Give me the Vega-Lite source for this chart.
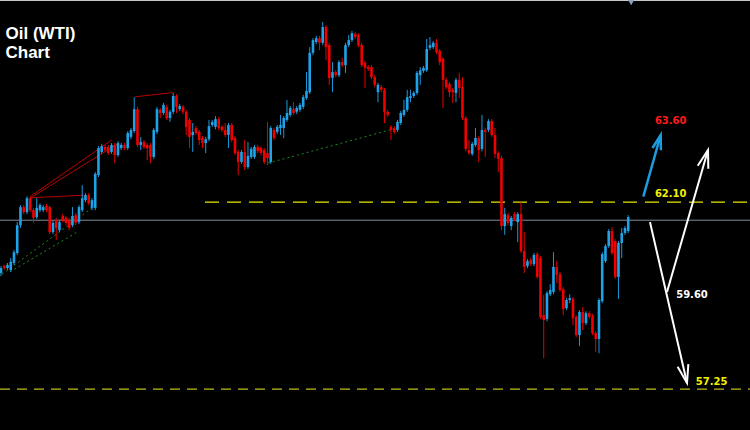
{
  "$schema": "https://vega.github.io/schema/vega-lite/v6.json",
  "width": 750,
  "height": 430,
  "autosize": {"type": "none"},
  "padding": 0,
  "background": "#000000",
  "config": {"view": {"stroke": null}, "axis": {"disable": true}},
  "datasets": {
    "candles": [
      {"i":0,"o":60.26,"h":60.44,"l":60.18,"c":60.39},
      {"i":1,"o":60.44,"h":60.47,"l":60.34,"c":60.39},
      {"i":2,"o":60.39,"h":60.52,"l":60.34,"c":60.47},
      {"i":3,"o":60.34,"h":60.65,"l":60.29,"c":60.55},
      {"i":4,"o":60.52,"h":60.86,"l":60.47,"c":60.80},
      {"i":5,"o":60.78,"h":61.58,"l":60.73,"c":61.50},
      {"i":6,"o":61.50,"h":62.02,"l":61.43,"c":61.97},
      {"i":7,"o":61.97,"h":62.02,"l":61.79,"c":61.84},
      {"i":8,"o":61.84,"h":62.25,"l":61.79,"c":62.20},
      {"i":9,"o":62.20,"h":62.23,"l":61.84,"c":61.89},
      {"i":10,"o":61.89,"h":61.95,"l":61.58,"c":61.69},
      {"i":11,"o":61.71,"h":62.20,"l":61.66,"c":61.95},
      {"i":12,"o":61.89,"h":62.07,"l":61.84,"c":62.02},
      {"i":13,"o":61.89,"h":62.02,"l":61.84,"c":61.97},
      {"i":14,"o":62.00,"h":62.05,"l":61.84,"c":61.89},
      {"i":15,"o":61.97,"h":62.00,"l":61.27,"c":61.32},
      {"i":16,"o":61.32,"h":61.61,"l":61.27,"c":61.56},
      {"i":17,"o":61.63,"h":61.69,"l":61.12,"c":61.43},
      {"i":18,"o":61.37,"h":61.63,"l":61.32,"c":61.58},
      {"i":19,"o":61.74,"h":61.79,"l":61.58,"c":61.63},
      {"i":20,"o":61.69,"h":61.74,"l":61.50,"c":61.56},
      {"i":21,"o":61.63,"h":61.69,"l":61.37,"c":61.43},
      {"i":22,"o":61.50,"h":61.97,"l":61.45,"c":61.74},
      {"i":23,"o":61.76,"h":61.82,"l":61.50,"c":61.56},
      {"i":24,"o":61.58,"h":62.02,"l":61.53,"c":61.97},
      {"i":25,"o":61.89,"h":62.54,"l":61.84,"c":62.20},
      {"i":26,"o":62.15,"h":62.33,"l":62.10,"c":62.28},
      {"i":27,"o":62.28,"h":62.33,"l":62.02,"c":62.07},
      {"i":28,"o":61.95,"h":62.20,"l":61.89,"c":62.15},
      {"i":29,"o":61.95,"h":62.88,"l":61.89,"c":62.83},
      {"i":30,"o":62.80,"h":63.55,"l":62.75,"c":63.50},
      {"i":31,"o":63.40,"h":63.61,"l":63.35,"c":63.55},
      {"i":32,"o":63.53,"h":63.58,"l":63.40,"c":63.45},
      {"i":33,"o":63.53,"h":63.58,"l":63.32,"c":63.37},
      {"i":34,"o":63.40,"h":63.63,"l":63.35,"c":63.58},
      {"i":35,"o":63.58,"h":63.63,"l":63.11,"c":63.32},
      {"i":36,"o":63.32,"h":63.68,"l":63.27,"c":63.63},
      {"i":37,"o":63.50,"h":63.63,"l":63.45,"c":63.58},
      {"i":38,"o":63.58,"h":63.63,"l":63.45,"c":63.50},
      {"i":39,"o":63.50,"h":63.94,"l":63.45,"c":63.89},
      {"i":40,"o":63.79,"h":64.02,"l":63.73,"c":63.97},
      {"i":41,"o":63.94,"h":64.82,"l":63.89,"c":64.51},
      {"i":42,"o":64.51,"h":64.57,"l":63.53,"c":63.58},
      {"i":43,"o":63.58,"h":63.79,"l":63.45,"c":63.66},
      {"i":44,"o":63.66,"h":63.71,"l":63.48,"c":63.53},
      {"i":45,"o":63.58,"h":63.63,"l":63.19,"c":63.50},
      {"i":46,"o":63.58,"h":63.63,"l":63.11,"c":63.27},
      {"i":47,"o":63.27,"h":64.02,"l":63.22,"c":63.97},
      {"i":48,"o":63.92,"h":64.57,"l":63.86,"c":64.51},
      {"i":49,"o":64.49,"h":64.54,"l":64.28,"c":64.41},
      {"i":50,"o":64.41,"h":64.67,"l":64.36,"c":64.62},
      {"i":51,"o":64.57,"h":64.62,"l":64.23,"c":64.28},
      {"i":52,"o":64.28,"h":64.49,"l":64.18,"c":64.44},
      {"i":53,"o":64.44,"h":64.93,"l":64.38,"c":64.85},
      {"i":54,"o":64.85,"h":64.90,"l":64.41,"c":64.57},
      {"i":55,"o":64.51,"h":64.64,"l":64.46,"c":64.59},
      {"i":56,"o":64.57,"h":64.62,"l":64.38,"c":64.44},
      {"i":57,"o":64.44,"h":64.49,"l":63.84,"c":64.05},
      {"i":58,"o":64.23,"h":64.28,"l":63.50,"c":63.79},
      {"i":59,"o":63.84,"h":64.15,"l":63.40,"c":63.92},
      {"i":60,"o":64.02,"h":64.07,"l":63.84,"c":63.89},
      {"i":61,"o":63.92,"h":63.97,"l":63.58,"c":63.71},
      {"i":62,"o":63.76,"h":63.81,"l":63.50,"c":63.63},
      {"i":63,"o":63.63,"h":63.79,"l":63.37,"c":63.73},
      {"i":64,"o":63.73,"h":64.23,"l":63.68,"c":64.07},
      {"i":65,"o":64.10,"h":64.23,"l":64.05,"c":64.18},
      {"i":66,"o":64.05,"h":64.33,"l":63.99,"c":64.25},
      {"i":67,"o":64.25,"h":64.31,"l":63.97,"c":64.02},
      {"i":68,"o":64.05,"h":64.10,"l":63.92,"c":63.97},
      {"i":69,"o":63.97,"h":64.15,"l":63.79,"c":63.84},
      {"i":70,"o":63.84,"h":64.15,"l":63.50,"c":64.10},
      {"i":71,"o":64.10,"h":64.15,"l":63.66,"c":63.71},
      {"i":72,"o":63.76,"h":63.81,"l":63.32,"c":63.37},
      {"i":73,"o":63.40,"h":63.45,"l":62.80,"c":63.14},
      {"i":74,"o":63.14,"h":63.45,"l":63.09,"c":63.40},
      {"i":75,"o":63.40,"h":63.71,"l":62.93,"c":63.01},
      {"i":76,"o":63.01,"h":63.66,"l":62.96,"c":63.30},
      {"i":77,"o":63.27,"h":63.53,"l":63.22,"c":63.48},
      {"i":78,"o":63.27,"h":63.58,"l":63.22,"c":63.53},
      {"i":79,"o":63.53,"h":63.58,"l":63.37,"c":63.42},
      {"i":80,"o":63.50,"h":63.55,"l":63.32,"c":63.37},
      {"i":81,"o":63.45,"h":63.50,"l":63.09,"c":63.14},
      {"i":82,"o":63.37,"h":64.18,"l":63.06,"c":63.24},
      {"i":83,"o":63.14,"h":64.07,"l":63.09,"c":64.02},
      {"i":84,"o":63.97,"h":64.02,"l":63.71,"c":63.76},
      {"i":85,"o":63.92,"h":64.10,"l":63.86,"c":64.05},
      {"i":86,"o":64.02,"h":64.36,"l":63.84,"c":64.10},
      {"i":87,"o":64.02,"h":64.33,"l":63.76,"c":64.28},
      {"i":88,"o":64.23,"h":64.75,"l":64.18,"c":64.41},
      {"i":89,"o":64.36,"h":64.59,"l":64.31,"c":64.54},
      {"i":90,"o":64.51,"h":64.69,"l":64.36,"c":64.41},
      {"i":91,"o":64.44,"h":64.59,"l":64.38,"c":64.54},
      {"i":92,"o":64.49,"h":64.67,"l":64.44,"c":64.62},
      {"i":93,"o":64.57,"h":64.88,"l":64.51,"c":64.82},
      {"i":94,"o":64.80,"h":65.47,"l":64.75,"c":64.98},
      {"i":95,"o":64.95,"h":66.12,"l":64.90,"c":65.97},
      {"i":96,"o":65.97,"h":66.35,"l":65.91,"c":66.30},
      {"i":97,"o":66.25,"h":66.41,"l":66.20,"c":66.35},
      {"i":98,"o":66.35,"h":66.41,"l":66.04,"c":66.23},
      {"i":99,"o":66.23,"h":66.77,"l":66.17,"c":66.64},
      {"i":100,"o":66.64,"h":66.69,"l":65.78,"c":66.12},
      {"i":101,"o":66.17,"h":66.23,"l":65.14,"c":65.32},
      {"i":102,"o":65.32,"h":65.73,"l":64.95,"c":65.47},
      {"i":103,"o":65.47,"h":65.52,"l":65.34,"c":65.39},
      {"i":104,"o":65.39,"h":65.78,"l":65.34,"c":65.73},
      {"i":105,"o":65.73,"h":65.84,"l":65.60,"c":65.65},
      {"i":106,"o":65.65,"h":66.23,"l":65.45,"c":66.17},
      {"i":107,"o":66.17,"h":66.43,"l":66.12,"c":66.30},
      {"i":108,"o":66.30,"h":66.54,"l":66.25,"c":66.48},
      {"i":109,"o":66.46,"h":66.51,"l":66.33,"c":66.38},
      {"i":110,"o":66.43,"h":66.48,"l":66.12,"c":66.17},
      {"i":111,"o":66.17,"h":66.23,"l":65.60,"c":65.65},
      {"i":112,"o":65.71,"h":65.76,"l":65.06,"c":65.58},
      {"i":113,"o":65.60,"h":65.65,"l":65.50,"c":65.55},
      {"i":114,"o":65.60,"h":65.65,"l":65.29,"c":65.34},
      {"i":115,"o":65.34,"h":65.39,"l":65.08,"c":65.14},
      {"i":116,"o":64.95,"h":65.19,"l":64.69,"c":65.14},
      {"i":117,"o":65.08,"h":65.14,"l":64.95,"c":65.01},
      {"i":118,"o":65.01,"h":65.06,"l":64.15,"c":64.44},
      {"i":119,"o":64.44,"h":64.49,"l":64.31,"c":64.36},
      {"i":120,"o":64.05,"h":64.10,"l":63.71,"c":63.97},
      {"i":121,"o":64.02,"h":64.07,"l":63.86,"c":63.92},
      {"i":122,"o":63.97,"h":64.23,"l":63.92,"c":64.18},
      {"i":123,"o":64.15,"h":64.46,"l":64.10,"c":64.41},
      {"i":124,"o":64.36,"h":64.75,"l":64.31,"c":64.49},
      {"i":125,"o":64.49,"h":65.01,"l":64.44,"c":64.82},
      {"i":126,"o":64.80,"h":65.01,"l":64.69,"c":64.85},
      {"i":127,"o":64.85,"h":64.98,"l":64.80,"c":64.93},
      {"i":128,"o":64.93,"h":65.50,"l":64.88,"c":65.45},
      {"i":129,"o":65.39,"h":65.60,"l":65.14,"c":65.52},
      {"i":130,"o":65.50,"h":65.63,"l":65.45,"c":65.58},
      {"i":131,"o":65.52,"h":66.33,"l":65.47,"c":66.07},
      {"i":132,"o":66.10,"h":66.38,"l":66.04,"c":66.17},
      {"i":133,"o":66.12,"h":66.28,"l":66.07,"c":66.23},
      {"i":134,"o":66.23,"h":66.33,"l":65.94,"c":65.99},
      {"i":135,"o":66.02,"h":66.07,"l":65.65,"c":65.73},
      {"i":136,"o":65.81,"h":65.86,"l":64.54,"c":65.27},
      {"i":137,"o":65.27,"h":65.32,"l":65.03,"c":65.08},
      {"i":138,"o":65.16,"h":65.21,"l":64.82,"c":64.95},
      {"i":139,"o":65.01,"h":65.06,"l":64.67,"c":64.95},
      {"i":140,"o":64.93,"h":65.32,"l":64.69,"c":65.27},
      {"i":141,"o":65.27,"h":65.45,"l":64.80,"c":65.06},
      {"i":142,"o":65.08,"h":65.34,"l":64.23,"c":64.28},
      {"i":143,"o":64.28,"h":64.33,"l":63.42,"c":63.48},
      {"i":144,"o":63.45,"h":63.71,"l":63.32,"c":63.37},
      {"i":145,"o":63.35,"h":63.66,"l":63.30,"c":63.61},
      {"i":146,"o":63.58,"h":64.02,"l":63.53,"c":63.76},
      {"i":147,"o":63.76,"h":63.81,"l":63.14,"c":63.45},
      {"i":148,"o":63.48,"h":64.36,"l":63.42,"c":63.97},
      {"i":149,"o":63.97,"h":64.02,"l":63.27,"c":63.92},
      {"i":150,"o":63.97,"h":64.25,"l":63.92,"c":64.20},
      {"i":151,"o":64.20,"h":64.25,"l":63.79,"c":63.84},
      {"i":152,"o":63.84,"h":64.02,"l":63.24,"c":63.35},
      {"i":153,"o":63.37,"h":63.42,"l":62.88,"c":63.22},
      {"i":154,"o":63.24,"h":63.30,"l":61.37,"c":61.48},
      {"i":155,"o":61.48,"h":61.95,"l":61.25,"c":61.79},
      {"i":156,"o":61.76,"h":61.82,"l":61.50,"c":61.56},
      {"i":157,"o":61.48,"h":61.74,"l":61.37,"c":61.69},
      {"i":158,"o":61.79,"h":61.84,"l":61.61,"c":61.66},
      {"i":159,"o":61.58,"h":61.84,"l":61.06,"c":61.79},
      {"i":160,"o":61.79,"h":62.10,"l":60.78,"c":60.83},
      {"i":161,"o":60.83,"h":61.32,"l":60.26,"c":60.42},
      {"i":162,"o":60.44,"h":60.62,"l":60.39,"c":60.57},
      {"i":163,"o":60.60,"h":60.65,"l":60.44,"c":60.49},
      {"i":164,"o":60.49,"h":60.78,"l":60.44,"c":60.73},
      {"i":165,"o":60.75,"h":60.80,"l":60.11,"c":60.16},
      {"i":166,"o":60.65,"h":60.70,"l":59.07,"c":59.12},
      {"i":167,"o":59.17,"h":59.69,"l":58.05,"c":59.04},
      {"i":168,"o":59.07,"h":59.79,"l":59.01,"c":59.74},
      {"i":169,"o":59.71,"h":59.97,"l":59.66,"c":59.82},
      {"i":170,"o":59.77,"h":60.80,"l":59.71,"c":60.42},
      {"i":171,"o":60.42,"h":60.57,"l":60.00,"c":60.21},
      {"i":172,"o":60.23,"h":60.29,"l":59.77,"c":59.82},
      {"i":173,"o":59.84,"h":59.90,"l":59.17,"c":59.33},
      {"i":174,"o":59.35,"h":59.61,"l":59.30,"c":59.56},
      {"i":175,"o":59.56,"h":59.71,"l":59.48,"c":59.61},
      {"i":176,"o":59.59,"h":59.64,"l":58.91,"c":59.09},
      {"i":177,"o":59.12,"h":59.17,"l":58.60,"c":58.65},
      {"i":178,"o":58.65,"h":59.30,"l":58.37,"c":59.25},
      {"i":179,"o":59.25,"h":59.38,"l":58.78,"c":58.96},
      {"i":180,"o":58.96,"h":59.27,"l":58.91,"c":59.22},
      {"i":181,"o":59.22,"h":59.27,"l":59.07,"c":59.12},
      {"i":182,"o":59.14,"h":59.20,"l":58.65,"c":58.70},
      {"i":183,"o":58.70,"h":58.76,"l":58.21,"c":58.55},
      {"i":184,"o":58.55,"h":59.61,"l":58.18,"c":59.56},
      {"i":185,"o":59.53,"h":60.80,"l":59.48,"c":60.75},
      {"i":186,"o":60.57,"h":61.01,"l":60.52,"c":60.96},
      {"i":187,"o":60.96,"h":61.40,"l":60.91,"c":61.35},
      {"i":188,"o":61.35,"h":61.45,"l":60.73,"c":60.78},
      {"i":189,"o":61.09,"h":61.14,"l":60.11,"c":60.16},
      {"i":190,"o":60.16,"h":61.09,"l":59.59,"c":61.04},
      {"i":191,"o":61.04,"h":61.43,"l":60.65,"c":61.30},
      {"i":192,"o":61.30,"h":61.48,"l":61.25,"c":61.43},
      {"i":193,"o":61.35,"h":61.76,"l":61.30,"c":61.71}
    ],
    "redLines": [
      {"id":"r1","x":8.93,"p":62.24},{"id":"r1","x":34.07,"p":63.71},
      {"id":"r2","x":8.93,"p":62.20},{"id":"r2","x":36.10,"p":63.62},
      {"id":"r3","x":8.93,"p":62.21},{"id":"r3","x":25.85,"p":62.28},
      {"id":"r4","x":41.24,"p":64.83},{"id":"r4","x":53.02,"p":64.94}
    ],
    "greenLines": [
      {"id":"g1","x":0.32,"p":60.23},{"id":"g1","x":28.01,"p":61.95},
      {"id":"g2","x":2.78,"p":60.29},{"id":"g2","x":23.39,"p":61.32},
      {"id":"g3","x":82.16,"p":63.11},{"id":"g3","x":119.7,"p":63.97}
    ],
    "whiteLines": [
      {"id":"down","x":199.7,"p":61.58},{"id":"down","x":211.09,"p":57.41},
      {"id":"up","x":204.93,"p":59.77},{"id":"up","x":217.55,"p":63.45}
    ],
    "blueLine": [
      {"id":"b","x":197.64,"p":62.24},{"id":"b","x":202.99,"p":63.84}
    ]
  },
  "layer": [
    {
      "data": {"values": [{}]},
      "mark": {"type": "rule", "stroke": "#c8c8c8", "strokeWidth": 2},
      "encoding": {
        "x": {"datum": -0.3, "type": "quantitative", "scale": {"domain": [-0.3, 230.47], "nice": false, "zero": false, "padding": 0}, "axis": null},
        "x2": {"datum": 230.47},
        "y": {"datum": 67.34, "type": "quantitative", "scale": {"domain": [56.19, 67.34], "nice": false, "zero": false, "padding": 0}, "axis": null}
      }
    },
    {
      "data": {"values": [{}]},
      "mark": {"type": "point", "shape": "triangle-down", "filled": true, "size": 45, "color": "#8aa2bb", "opacity": 1},
      "encoding": {
        "x": {"datum": 193.9, "type": "quantitative"},
        "y": {"datum": 67.28, "type": "quantitative"}
      }
    },
    {
      "data": {"values": [{}]},
      "mark": {"type": "rule", "stroke": "#7f8d9c", "strokeWidth": 1},
      "encoding": {
        "x": {"datum": -0.3, "type": "quantitative"},
        "x2": {"datum": 230.47},
        "y": {"datum": 61.63, "type": "quantitative"}
      }
    },
    {
      "data": {"values": [{}]},
      "mark": {"type": "rule", "stroke": "#e6e600", "strokeWidth": 1.3, "strokeDash": [14, 8]},
      "encoding": {
        "x": {"datum": 62.78, "type": "quantitative"},
        "x2": {"datum": 230.47},
        "y": {"datum": 62.10, "type": "quantitative"}
      }
    },
    {
      "data": {"values": [{}]},
      "mark": {"type": "rule", "stroke": "#bdbd14", "strokeWidth": 1.3, "strokeDash": [10, 7]},
      "encoding": {
        "x": {"datum": -0.3, "type": "quantitative"},
        "x2": {"datum": 230.47},
        "y": {"datum": 57.25, "type": "quantitative"}
      }
    },
    {
      "data": {"name": "greenLines"},
      "mark": {"type": "line", "stroke": "#1d8a1d", "strokeWidth": 1, "strokeDash": [2, 3]},
      "encoding": {
        "x": {"field": "x", "type": "quantitative"},
        "y": {"field": "p", "type": "quantitative"},
        "detail": {"field": "id"}
      }
    },
    {
      "data": {"name": "redLines"},
      "mark": {"type": "line", "stroke": "#b80000", "strokeWidth": 1},
      "encoding": {
        "x": {"field": "x", "type": "quantitative"},
        "y": {"field": "p", "type": "quantitative"},
        "detail": {"field": "id"}
      }
    },
    {
      "data": {"name": "candles"},
      "mark": {"type": "rule", "strokeWidth": 1},
      "encoding": {
        "x": {"field": "i", "type": "quantitative"},
        "y": {"field": "l", "type": "quantitative"},
        "y2": {"field": "h"},
        "color": {"condition": {"test": "datum.c < datum.o", "value": "#e80000"}, "value": "#1b98dc"}
      }
    },
    {
      "data": {"name": "candles"},
      "mark": {"type": "bar", "size": 2.6},
      "encoding": {
        "x": {"field": "i", "type": "quantitative"},
        "y": {"field": "o", "type": "quantitative"},
        "y2": {"field": "c"},
        "color": {"condition": {"test": "datum.c < datum.o", "value": "#f00000"}, "value": "#1ea3e8"}
      }
    },
    {
      "data": {"name": "blueLine"},
      "mark": {"type": "line", "stroke": "#1e9ce0", "strokeWidth": 2.5},
      "encoding": {
        "x": {"field": "x", "type": "quantitative"},
        "y": {"field": "p", "type": "quantitative"},
        "detail": {"field": "id"}
      }
    },
    {
      "data": {"name": "whiteLines"},
      "mark": {"type": "line", "stroke": "#ffffff", "strokeWidth": 2},
      "encoding": {
        "x": {"field": "x", "type": "quantitative"},
        "y": {"field": "p", "type": "quantitative"},
        "detail": {"field": "id"}
      }
    },
    {
      "data": {"values": [{}]},
      "mark": {"type": "point", "shape": "M -0.5 1.7 L 0 0 L 0.5 1.7", "size": 300, "angle": 15.7, "filled": false, "stroke": "#1e9ce0", "strokeWidth": 2.5, "opacity": 1},
      "encoding": {
        "x": {"datum": 202.99, "type": "quantitative"},
        "y": {"datum": 63.84, "type": "quantitative"}
      }
    },
    {
      "data": {"values": [{}]},
      "mark": {"type": "point", "shape": "M -0.55 1.8 L 0 0 L 0.55 1.8", "size": 400, "angle": 16.1, "filled": false, "stroke": "#ffffff", "strokeWidth": 2, "opacity": 1},
      "encoding": {
        "x": {"datum": 217.55, "type": "quantitative"},
        "y": {"datum": 63.45, "type": "quantitative"}
      }
    },
    {
      "data": {"values": [{}]},
      "mark": {"type": "point", "shape": "M -0.55 1.8 L 0 0 L 0.55 1.8", "size": 400, "angle": 167.1, "filled": false, "stroke": "#ffffff", "strokeWidth": 2, "opacity": 1},
      "encoding": {
        "x": {"datum": 211.09, "type": "quantitative"},
        "y": {"datum": 57.41, "type": "quantitative"}
      }
    },
    {
      "data": {"values": [{}]},
      "mark": {"type": "text", "text": "Oil (WTI)", "font": "Liberation Sans", "fontWeight": "bold", "fontSize": 17, "color": "#ffffff", "align": "left", "baseline": "alphabetic"},
      "encoding": {
        "x": {"datum": 1.39, "type": "quantitative"},
        "y": {"datum": 66.32, "type": "quantitative"}
      }
    },
    {
      "data": {"values": [{}]},
      "mark": {"type": "text", "text": "Chart", "font": "Liberation Sans", "fontWeight": "bold", "fontSize": 17, "color": "#ffffff", "align": "left", "baseline": "alphabetic"},
      "encoding": {
        "x": {"datum": 1.39, "type": "quantitative"},
        "y": {"datum": 65.83, "type": "quantitative"}
      }
    },
    {
      "data": {"values": [{}]},
      "mark": {"type": "text", "text": "63.60", "font": "DejaVu Sans", "fontWeight": "bold", "fontSize": 10, "color": "#ff1a1a", "align": "center", "baseline": "alphabetic"},
      "encoding": {
        "x": {"datum": 206.07, "type": "quantitative"},
        "y": {"datum": 64.13, "type": "quantitative"}
      }
    },
    {
      "data": {"values": [{}]},
      "mark": {"type": "text", "text": "62.10", "font": "DejaVu Sans", "fontWeight": "bold", "fontSize": 10, "color": "#f2f200", "align": "center", "baseline": "alphabetic"},
      "encoding": {
        "x": {"datum": 206.07, "type": "quantitative"},
        "y": {"datum": 62.24, "type": "quantitative"}
      }
    },
    {
      "data": {"values": [{}]},
      "mark": {"type": "text", "text": "59.60", "font": "DejaVu Sans", "fontWeight": "bold", "fontSize": 10, "color": "#ffffff", "align": "center", "baseline": "alphabetic"},
      "encoding": {
        "x": {"datum": 212.62, "type": "quantitative"},
        "y": {"datum": 59.60, "type": "quantitative"}
      }
    },
    {
      "data": {"values": [{}]},
      "mark": {"type": "text", "text": "57.25", "font": "DejaVu Sans", "fontWeight": "bold", "fontSize": 10, "color": "#f2f200", "align": "center", "baseline": "alphabetic"},
      "encoding": {
        "x": {"datum": 218.68, "type": "quantitative"},
        "y": {"datum": 57.35, "type": "quantitative"}
      }
    }
  ]
}
